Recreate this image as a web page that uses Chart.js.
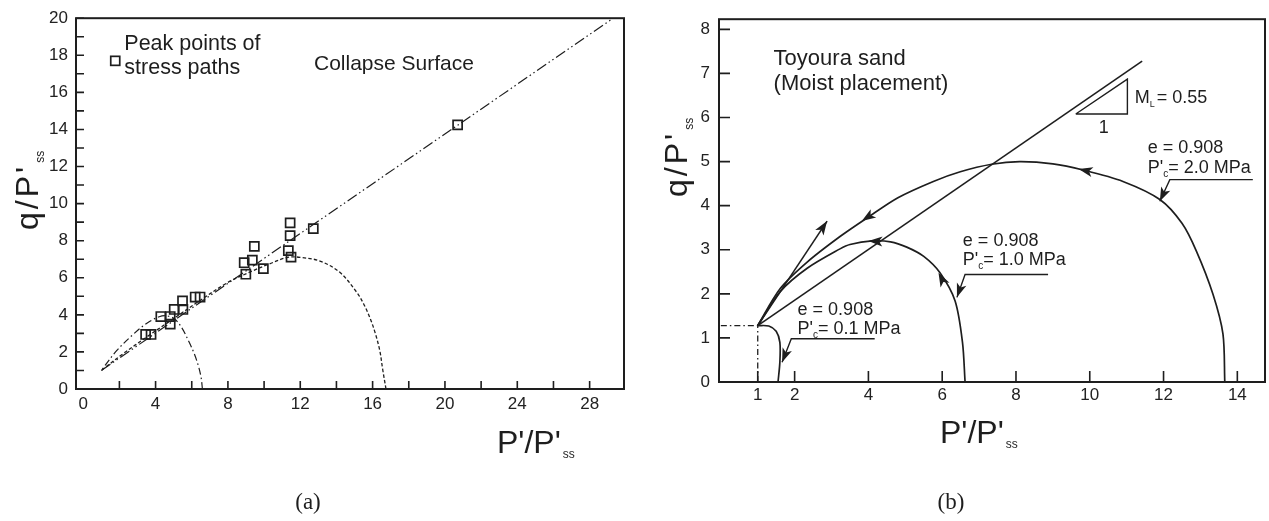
<!DOCTYPE html>
<html><head><meta charset="utf-8">
<script src="https://cdn.jsdelivr.net/npm/chart.js@4/dist/chart.umd.min.js"></script>
<style>
html,body{margin:0;padding:0;background:#fff;width:1269px;height:521px;overflow:hidden}
#ca{position:absolute;left:0;top:0}
#cb{position:absolute;left:640px;top:0}
</style></head><body>
<canvas id="ca" width="640" height="521"></canvas>
<canvas id="cb" width="629" height="521"></canvas>
<script>
// ---------- Panel (a) data ----------
const peakX = [11.44, 11.44, 12.72, 9.46, 11.34, 11.49, 8.90, 9.35, 9.96, 8.99, 6.19, 6.46, 5.49, 5.03, 5.51, 4.29, 4.81, 4.81, 3.45, 3.75, 20.7];
const peakY = [8.96, 8.27, 8.65, 7.69, 7.46, 7.11, 6.81, 6.95, 6.49, 6.19, 4.96, 4.96, 4.75, 4.29, 4.29, 3.91, 3.91, 3.50, 2.94, 2.94, 14.25];
const collapseX = [1.0, 29.3];
const collapseY = [1.0, 20.0];
const smallPathAX = [6.59, 6.52, 6.38, 6.14, 5.82, 5.45, 5.05, 4.6, 4.2, 3.52, 2.78, 1.86, 1.0];
const smallPathAY = [0, 0.6, 1.2, 1.9, 2.6, 3.3, 3.78, 3.95, 3.9, 3.55, 2.96, 2.08, 1.0];
const bigPathAX = [16.74, 16.55, 16.4, 16.15, 15.86, 15.5, 15.12, 14.2, 13.09, 12.0, 11.3, 10.3, 9.2, 8.0, 6.5, 5.0, 3.5, 2.2, 1.0];
const bigPathAY = [0, 1.1, 2.06, 3.0, 3.82, 4.6, 5.22, 6.28, 6.9, 7.1, 7.1, 6.75, 6.3, 5.75, 4.8, 3.8, 2.8, 1.9, 1.0];
const xTicksA = [0, 2, 4, 6, 8, 10, 12, 14, 16, 18, 20, 22, 24, 26, 28];
const yTicksA = [0,1,2,3,4,5,6,7,8,9,10,11,12,13,14,15,16,17,18,19,20];

// ---------- Panel (b) data ----------
const cslBX = [1.0, 11.42];
const cslBY = [1.28, 7.28];
const bigPathBX = [13.66, 13.61, 13.34, 12.89, 12.5, 11.9, 10.9, 9.82, 9.0, 8.1, 7.34, 6.49, 5.76, 4.8, 3.96, 3.23, 2.34, 1.61, 1.0];
const bigPathBY = [0, 1.09, 1.99, 2.97, 3.6, 4.14, 4.55, 4.81, 4.95, 5.0, 4.94, 4.77, 4.55, 4.18, 3.72, 3.3, 2.72, 2.12, 1.28];
const medPathBX = [6.62, 6.55, 6.35, 5.94, 5.5, 5.04, 4.6, 4.1, 3.5, 3.23, 2.34, 1.61, 1.0];
const medPathBY = [0, 0.9, 1.84, 2.48, 2.85, 3.06, 3.18, 3.2, 3.12, 3.02, 2.58, 2.05, 1.28];
const smallPathBX = [1.55, 1.6, 1.6, 1.5, 1.3, 1.0];
const smallPathBY = [0, 0.45, 0.9, 1.15, 1.27, 1.28];
const dilateBX = [1.0, 2.88];
const dilateBY = [1.28, 3.65];
const guideHX = [0, 1.0], guideHY = [1.28, 1.28];
const guideVX = [1.0, 1.0], guideVY = [0, 1.28];
const lead2X = [14.42, 12.17, 11.9], lead2Y = [4.59, 4.59, 4.1];
const lead1X = [8.87, 6.62, 6.40], lead1Y = [2.44, 2.44, 1.92];
const lead01X = [4.17, 1.91, 1.66], lead01Y = [0.98, 0.98, 0.45];
const xTicksB = [1, 2, 4, 6, 8, 10, 12, 14];
const yTicksB = [0, 1, 2, 3, 4, 5, 6, 7, 8];
const slopeTriX = [9.62, 11.02, 11.02], slopeTriY = [6.08, 6.08, 6.87];

const FAM = "'Liberation Sans', Arial, sans-serif";
const INK = '#1e1e1e';
const pts = (xs, ys) => xs.map((x, i) => ({x: x, y: ys[i]}));

function arrowHead(ctx, sx, sy, from, to, len, hw) {
  const x0 = sx.getPixelForValue(from[0]), y0 = sy.getPixelForValue(from[1]);
  const x1 = sx.getPixelForValue(to[0]), y1 = sy.getPixelForValue(to[1]);
  const ang = Math.atan2(y1 - y0, x1 - x0);
  ctx.save(); ctx.translate(x1, y1); ctx.rotate(ang);
  ctx.beginPath(); ctx.moveTo(0, 0); ctx.lineTo(-len, hw); ctx.lineTo(-len * 0.75, 0); ctx.lineTo(-len, -hw); ctx.closePath();
  ctx.fill(); ctx.restore();
}
function richText(ctx, x, y, parts) {
  let cx = x;
  parts.forEach(p => {
    ctx.font = p.s + 'px ' + FAM;
    ctx.fillText(p.t, cx, y + (p.dy || 0));
    cx += ctx.measureText(p.t).width + (p.gap || 0);
  });
  return cx;
}
function framePlugin(cfg) {
  return {
    id: 'frame' + cfg.name,
    afterDatasetsDraw(chart) {
      const ctx = chart.ctx, a = chart.chartArea, sx = chart.scales.x, sy = chart.scales.y;
      ctx.save();
      ctx.strokeStyle = INK; ctx.lineWidth = 1.6;
      ctx.beginPath();
      sx.ticks.forEach(t => {
        if (cfg.skipX.indexOf(t.value) >= 0) return;
        const px = sx.getPixelForValue(t.value);
        ctx.moveTo(px, a.bottom); ctx.lineTo(px, a.bottom - cfg.tickLen);
      });
      sy.ticks.forEach(t => {
        const py = sy.getPixelForValue(t.value);
        ctx.moveTo(a.left, py); ctx.lineTo(a.left + cfg.tickLen, py);
      });
      ctx.stroke();
      ctx.lineWidth = 2;
      ctx.strokeRect(a.left, a.top, a.right - a.left, a.bottom - a.top);
      ctx.restore();
      ctx.save();
      ctx.fillStyle = INK; ctx.strokeStyle = INK;
      cfg.draw(chart, ctx, sx, sy);
      ctx.restore();
    }
  };
}
function tickScale(min, max, ticks, labelFn, size, pad, axis) {
  const o = {
    type: 'linear', min: min, max: max,
    afterBuildTicks: s => { s.ticks = ticks.map(v => ({value: v})); },
    grid: {display: false, drawTicks: false},
    border: {display: false},
    ticks: {autoSkip: false, maxRotation: 0, padding: pad, color: '#222', font: {family: FAM, size: 17}, callback: labelFn}
  };
  if (axis === 'x') o.afterFit = s => { s.height = size; };
  else o.afterFit = s => { s.width = size; };
  return o;
}
const lineDs = (xs, ys, w, dash, tension) => ({data: pts(xs, ys), showLine: true, pointRadius: 0, borderColor: INK, borderWidth: w, borderDash: dash || [], tension: tension || 0, fill: false});

// ---------- Chart (a) ----------
new Chart(document.getElementById('ca'), {
  type: 'scatter',
  data: {datasets: [
    Object.assign(lineDs(collapseX, collapseY, 1.2, [11, 3, 1.5, 3, 1.5, 3]), {label: 'Collapse Surface'}),
    Object.assign(lineDs(smallPathAX, smallPathAY, 1.2, [7, 3, 1.5, 3], 0.35), {label: 'stress path 1'}),
    Object.assign(lineDs(bigPathAX, bigPathAY, 1.3, [3.5, 2.2], 0.35), {label: 'stress path 2'}),
    {label: 'Peak points of stress paths', data: pts(peakX, peakY), pointStyle: 'rect', pointRadius: 6.4, borderColor: INK, borderWidth: 1.7, backgroundColor: 'rgba(0,0,0,0)'}
  ]},
  options: {
    responsive: false, animation: false,
    layout: {padding: {left: 0, right: 16, top: 10, bottom: 0}},
    plugins: {legend: {display: false}, tooltip: {enabled: false}},
    scales: {
      x: tickScale(-0.4, 29.9, xTicksA, v => (v % 4 === 0 ? String(v) : ''), 132, 5, 'x'),
      y: tickScale(0, 20, yTicksA, v => (v % 2 === 0 ? String(v) : ''), 76, 8, 'y')
    }
  },
  plugins: [framePlugin({name: 'a', tickLen: 8, skipX: [0], draw: (chart, ctx, sx, sy) => {
    const mx = sx.getPixelForValue(1.77), my = sy.getPixelForValue(17.7);
    ctx.lineWidth = 1.7; ctx.strokeRect(mx - 4.5, my - 4.5, 9, 9);
    ctx.textBaseline = 'alphabetic'; ctx.textAlign = 'left';
    ctx.font = '21.5px ' + FAM;
    ctx.fillText('Peak points of', sx.getPixelForValue(2.27), sy.getPixelForValue(18.27));
    ctx.fillText('stress paths', sx.getPixelForValue(2.27), sy.getPixelForValue(17.01));
    ctx.font = '21px ' + FAM;
    ctx.fillText('Collapse Surface', sx.getPixelForValue(12.76), sy.getPixelForValue(17.19));
    richText(ctx, 497, 453, [{t: "P'/P'", s: 32, gap: 2}, {t: 'ss', s: 12, dy: 5}]);
    ctx.save(); ctx.translate(38, 230); ctx.rotate(-Math.PI / 2);
    ctx.font = '32px ' + FAM; ctx.letterSpacing = '3px';
    ctx.fillText("q/P'", 0, 0);
    const w = ctx.measureText("q/P'").width; ctx.letterSpacing = '0px';
    ctx.font = '12px ' + FAM; ctx.fillText('ss', w + 1, 6);
    ctx.restore();
    ctx.font = "23px 'Liberation Serif', 'DejaVu Serif', serif"; ctx.textAlign = 'center'; ctx.textBaseline = 'middle';
    ctx.fillText('(a)', 308, 503);
  }})]
});

// ---------- Chart (b) ----------
new Chart(document.getElementById('cb'), {
  type: 'scatter',
  data: {datasets: [
    Object.assign(lineDs(cslBX, cslBY, 1.6), {label: 'M_L line'}),
    Object.assign(lineDs(bigPathBX, bigPathBY, 1.7, [], 0.3), {label: "P'c = 2.0 MPa"}),
    Object.assign(lineDs(medPathBX, medPathBY, 1.7, [], 0.3), {label: "P'c = 1.0 MPa"}),
    Object.assign(lineDs(smallPathBX, smallPathBY, 1.7, [], 0.3), {label: "P'c = 0.1 MPa"}),
    Object.assign(lineDs(dilateBX, dilateBY, 1.6), {label: 'dilative'}),
    Object.assign(lineDs(guideHX, guideHY, 1.3, [6, 3, 1.5, 3]), {label: 'guide h'}),
    Object.assign(lineDs(guideVX, guideVY, 1.3, [6, 3, 1.5, 3]), {label: 'guide v'}),
    Object.assign(lineDs(lead2X, lead2Y, 1.4), {label: 'leader 2.0'}),
    Object.assign(lineDs(lead1X, lead1Y, 1.4), {label: 'leader 1.0'}),
    Object.assign(lineDs(lead01X, lead01Y, 1.4), {label: 'leader 0.1'}),
    Object.assign(lineDs(slopeTriX.concat([slopeTriX[0]]), slopeTriY.concat([slopeTriY[0]]), 1.4), {label: 'slope'})
  ]},
  options: {
    responsive: false, animation: false,
    layout: {padding: {left: 0, right: 4, top: 17, bottom: 0}},
    plugins: {legend: {display: false}, tooltip: {enabled: false}},
    scales: {
      x: tickScale(-0.05, 14.75, xTicksB, v => String(v), 139, 3, 'x'),
      y: tickScale(0, 8.23, yTicksB, v => String(v), 79, 9, 'y')
    }
  },
  plugins: [framePlugin({name: 'b', tickLen: 11, skipX: [], draw: (chart, ctx, sx, sy) => {
    const L = 14, H = 5;
    arrowHead(ctx, sx, sy, [10.4, 4.7], [9.7, 4.83], L, H);
    arrowHead(ctx, sx, sy, [4.4, 3.97], [3.82, 3.65], L, H);
    arrowHead(ctx, sx, sy, [6.2, 2.0], [5.9, 2.48], L, H);
    arrowHead(ctx, sx, sy, [4.6, 3.18], [4.0, 3.2], L, H);
    arrowHead(ctx, sx, sy, [dilateBX[0], dilateBY[0]], [dilateBX[1], dilateBY[1]], L, H);
    arrowHead(ctx, sx, sy, [lead2X[1], lead2Y[1]], [lead2X[2], lead2Y[2]], L, H);
    arrowHead(ctx, sx, sy, [lead1X[1], lead1Y[1]], [lead1X[2], lead1Y[2]], L, H);
    arrowHead(ctx, sx, sy, [lead01X[1], lead01Y[1]], [lead01X[2], lead01Y[2]], L, H);
    ctx.textBaseline = 'alphabetic'; ctx.textAlign = 'left';
    ctx.font = '22px ' + FAM;
    ctx.fillText('Toyoura sand', sx.getPixelForValue(1.43), sy.getPixelForValue(7.20));
    ctx.fillText('(Moist placement)', sx.getPixelForValue(1.43), sy.getPixelForValue(6.62));
    const lab = (x, y1, y2, v) => {
      ctx.font = '18px ' + FAM;
      ctx.fillText('e = 0.908', sx.getPixelForValue(x), sy.getPixelForValue(y1));
      richText(ctx, sx.getPixelForValue(x), sy.getPixelForValue(y2), [{t: "P'", s: 18}, {t: 'c', s: 10, dy: 4}, {t: '= ' + v + ' MPa', s: 18}]);
    };
    lab(11.57, 5.19, 4.73, '2.0');
    lab(6.56, 3.09, 2.66, '1.0');
    lab(2.08, 1.53, 1.09, '0.1');
    richText(ctx, sx.getPixelForValue(11.22), sy.getPixelForValue(6.32), [{t: 'M', s: 18}, {t: 'L', s: 9, dy: 4, gap: 2}, {t: '= 0.55', s: 18}]);
    ctx.font = '18px ' + FAM; ctx.textAlign = 'center';
    ctx.fillText('1', sx.getPixelForValue(10.38), sy.getPixelForValue(5.64));
    ctx.textAlign = 'left';
    richText(ctx, 300, 443, [{t: "P'/P'", s: 32, gap: 2}, {t: 'ss', s: 12, dy: 5}]);
    ctx.save(); ctx.translate(47, 197); ctx.rotate(-Math.PI / 2);
    ctx.font = '32px ' + FAM; ctx.letterSpacing = '3px';
    ctx.fillText("q/P'", 0, 0);
    const w = ctx.measureText("q/P'").width; ctx.letterSpacing = '0px';
    ctx.font = '12px ' + FAM; ctx.fillText('ss', w + 1, 6);
    ctx.restore();
    ctx.font = "23px 'Liberation Serif', 'DejaVu Serif', serif"; ctx.textAlign = 'center'; ctx.textBaseline = 'middle';
    ctx.fillText('(b)', 311, 503);
  }})]
});
</script>
</body></html>
